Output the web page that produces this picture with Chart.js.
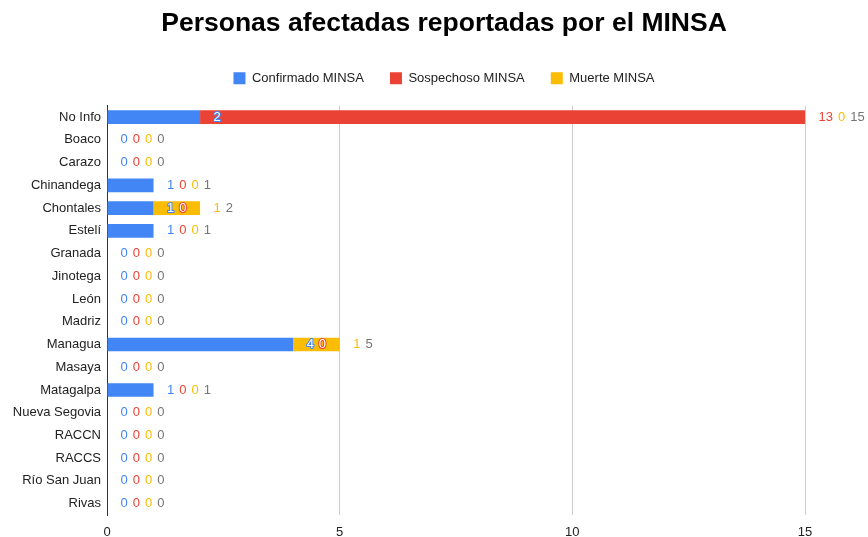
<!DOCTYPE html>
<html>
<head>
<meta charset="utf-8">
<script src="https://cdn.jsdelivr.net/npm/chart.js@4.4.1/dist/chart.umd.min.js"></script>
<style>
  html, body { margin: 0; padding: 0; background: #fff; }
  #wrap { width: 868px; height: 537px; }
</style>
</head>
<body>
<div id="wrap"><canvas id="myChart" width="868" height="537"></canvas></div>
<script>
// datos
const categorias = ['No Info', 'Boaco', 'Carazo', 'Chinandega', 'Chontales', 'Estelí', 'Granada',
  'Jinotega', 'León', 'Madriz', 'Managua', 'Masaya', 'Matagalpa', 'Nueva Segovia', 'RACCN',
  'RACCS', 'Río San Juan', 'Rivas'];
const confirmado = [2, 0, 0, 1, 1, 1, 0, 0, 0, 0, 4, 0, 1, 0, 0, 0, 0, 0];
const sospechoso = [13, 0, 0, 0, 0, 0, 0, 0, 0, 0, 0, 0, 0, 0, 0, 0, 0, 0];
const muerte     = [0, 0, 0, 0, 1, 0, 0, 0, 0, 0, 1, 0, 0, 0, 0, 0, 0, 0];
const ticksX = [0, 5, 10, 15];

const azul = '#4285F4', rojo = '#EA4335', amarillo = '#FBBC04', gris = '#757575';
const fuente = "Arial, 'Liberation Sans', sans-serif";

// etiquetas de valores al final de cada segmento + total
const etiquetas = {
  id: 'etiquetas',
  afterDatasetsDraw(chart) {
    const ctx = chart.ctx;
    const x = chart.scales.x, y = chart.scales.y;
    ctx.save();
    ctx.font = '13px ' + fuente;
    ctx.textBaseline = 'middle';
    ctx.textAlign = 'left';
    categorias.forEach((c, i) => {
      const py = y.getPixelForValue(i);
      let suma = 0;
      let prev = -Infinity;
      const total = chart.data.datasets.reduce((s, d) => s + d.data[i], 0);
      const finBarra = x.getPixelForValue(total);
      const items = chart.data.datasets.map(d => {
        suma += d.data[i];
        return { txt: String(d.data[i]), fin: x.getPixelForValue(suma), color: d.backgroundColor };
      });
      items.push({ txt: String(total), fin: finBarra, color: gris });
      items.forEach(it => {
        const w = ctx.measureText(it.txt).width;
        const px = Math.max(it.fin + 13.5, prev + 5);
        if (px + w / 2 < finBarra) {
          // dentro de la barra: texto blanco con contorno de color
          ctx.lineWidth = 2;
          ctx.lineJoin = 'round';
          ctx.strokeStyle = it.color;
          ctx.strokeText(it.txt, px, py);
          ctx.fillStyle = '#fff';
          ctx.fillText(it.txt, px, py);
        } else {
          ctx.fillStyle = it.color;
          ctx.fillText(it.txt, px, py);
        }
        prev = px + w;
      });
    });
    ctx.restore();
  }
};

// mover título y leyenda un poco a la derecha
const desplazar = {
  id: 'desplazar',
  afterLayout(chart) {
    [chart.titleBlock, chart.legend].forEach(b => {
      if (b) { b.left += 10; b.right += 10; }
    });
  }
};

const ctx = document.getElementById('myChart');
new Chart(ctx, {
  type: 'bar',
  data: {
    labels: categorias,
    datasets: [
      { label: 'Confirmado MINSA', data: confirmado, backgroundColor: azul, xAxisID: 'x', yAxisID: 'y' },
      { label: 'Sospechoso MINSA', data: sospechoso, backgroundColor: rojo, xAxisID: 'x', yAxisID: 'y' },
      { label: 'Muerte MINSA', data: muerte, backgroundColor: amarillo, xAxisID: 'x', yAxisID: 'y' }
    ]
  },
  options: {
    indexAxis: 'y',
    responsive: false,
    animation: false,
    barPercentage: 0.6,
    categoryPercentage: 1,
    layout: { padding: 0 },
    plugins: {
      title: {
        display: true,
        text: 'Personas afectadas reportadas por el MINSA',
        color: '#000',
        font: { family: fuente, size: 26.5, weight: 'bold' },
        padding: { top: 8, bottom: 6 }
      },
      legend: {
        position: 'top',
        labels: {
          boxWidth: 12, boxHeight: 12, padding: 26,
          color: '#222',
          font: { family: fuente, size: 13 }
        }
      },
      tooltip: { enabled: false }
    },
    scales: {
      x: {
        stacked: true,
        min: 0, max: 15,
        afterBuildTicks: s => { s.ticks = ticksX.map(v => ({ value: v })); },
        afterFit: s => { s.height = 22; },
        grid: { color: '#ccc', drawTicks: false },
        border: { display: false },
        ticks: { color: '#222', padding: 10, font: { family: fuente, size: 13 } }
      },
      // espacio vacío arriba y a la derecha del área
      arriba: {
        type: 'linear', axis: 'x', position: 'top', display: true,
        afterFit: s => { s.height = 11; },
        grid: { display: false }, border: { display: false }, ticks: { display: false }
      },
      derecha: {
        type: 'linear', axis: 'y', position: 'right', display: true,
        afterFit: s => { s.width = 63; },
        grid: { display: false }, border: { display: false }, ticks: { display: false }
      },
      y: {
        stacked: true,
        afterFit: s => { s.width = 107; },
        grid: { display: false, drawTicks: false },
        border: { display: true, color: '#333' },
        ticks: { color: '#222', padding: 6, font: { family: fuente, size: 13 } }
      }
    }
  },
  plugins: [etiquetas, desplazar]
});
</script>
</body>
</html>
